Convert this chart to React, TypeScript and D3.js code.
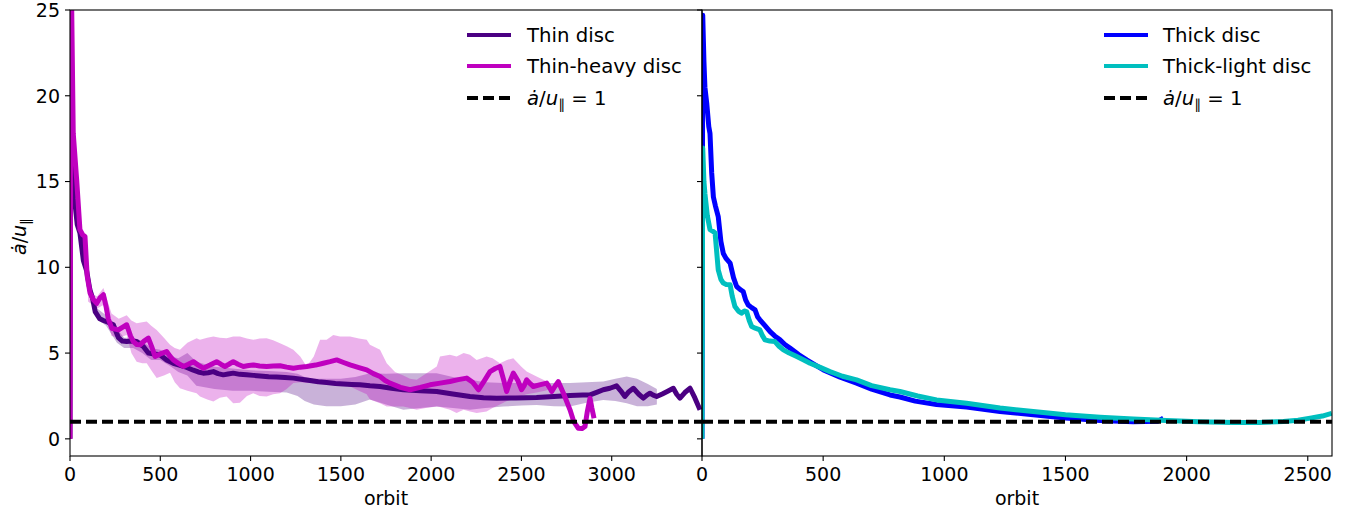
import React from 'react';
import * as d3 from 'd3';

const W = 1357, H = 516;
const TOP = 10, BOTTOM = 456;
const L_LEFT = 70, MID = 702, R_RIGHT = 1332;
const FONT = 'DejaVu Sans';
const FS = 19;
const LFS = 19.7;

const yTicks = [0, 5, 10, 15, 20, 25];
const leftXTicks = [0, 500, 1000, 1500, 2000, 2500, 3000];
const rightXTicks = [0, 500, 1000, 1500, 2000, 2500];

const leftLegend = ['Thin disc', 'Thin-heavy disc'];
const rightLegend = ['Thick disc', 'Thick-light disc'];

// [orbit, value]
const thinDisc: [number, number][] = [
  [0, 0], [4, 20.7], [12, 17], [25, 14], [40, 12.5], [55, 12], [74, 10.4], [92, 9.8], [110, 8.7], [125, 8.2],
  [140, 7.4], [165, 7.0], [185, 6.9], [210, 6.8], [240, 6.65], [268, 5.9], [290, 5.7], [314, 5.67], [340, 5.7],
  [369, 5.67], [390, 5.5], [406, 5.38], [434, 5.0], [465, 4.95], [498, 4.9], [535, 4.6], [572, 4.4], [605, 4.3],
  [637, 4.2], [660, 4.1], [683, 4.0], [710, 3.9], [738, 3.83], [765, 3.85], [794, 3.92], [820, 3.8], [849, 3.73],
  [875, 3.78], [904, 3.83], [940, 3.76], [978, 3.73], [1015, 3.7], [1052, 3.67], [1100, 3.62], [1144, 3.6],
  [1190, 3.57], [1237, 3.54], [1280, 3.48], [1329, 3.4], [1375, 3.33], [1421, 3.28], [1470, 3.23], [1514, 3.2],
  [1560, 3.17], [1606, 3.15], [1661, 3.09], [1717, 3.05], [1780, 2.95], [1846, 2.86], [1940, 2.8], [2031, 2.76],
  [2120, 2.62], [2215, 2.47], [2290, 2.4], [2363, 2.37], [2470, 2.38], [2584, 2.41], [2680, 2.47], [2769, 2.53],
  [2840, 2.55], [2880, 2.56], [2920, 2.72], [2953, 2.86], [2990, 2.95], [3027, 3.09], [3050, 2.8], [3073, 2.47],
  [3095, 2.75], [3120, 2.95], [3150, 2.6], [3175, 2.37], [3195, 2.55], [3212, 2.66], [3230, 2.55], [3249, 2.47],
  [3280, 2.62], [3310, 2.78], [3341, 2.95], [3360, 2.6], [3378, 2.37], [3405, 2.7], [3434, 2.95], [3460, 2.4],
  [3489, 1.69],
];

const thinHeavy: [number, number][] = [
  [0, 0], [6, 28], [18, 17.8], [37, 15.1], [55, 12.2], [70, 11.9], [83, 11.8], [95, 9.5], [111, 8.5], [130, 8.1],
  [148, 7.9], [165, 8.2], [185, 8.4], [200, 7.7], [212, 7.0], [231, 6.45], [250, 6.4], [268, 6.35], [290, 6.5],
  [314, 6.65], [335, 6.0], [351, 5.67], [370, 5.5], [388, 5.48], [410, 5.7], [434, 5.87], [455, 5.3], [471, 4.8],
  [500, 4.95], [535, 5.09], [555, 4.8], [572, 4.6], [600, 4.4], [628, 4.22], [655, 4.35], [683, 4.5], [710, 4.3],
  [738, 4.12], [775, 4.3], [812, 4.5], [835, 4.35], [858, 4.22], [880, 4.35], [904, 4.5], [930, 4.35], [960, 4.22],
  [990, 4.28], [1015, 4.31], [1050, 4.25], [1089, 4.22], [1125, 4.25], [1163, 4.26], [1200, 4.18], [1237, 4.12],
  [1275, 4.18], [1311, 4.22], [1360, 4.3], [1403, 4.41], [1440, 4.5], [1477, 4.6], [1515, 4.45], [1551, 4.31],
  [1600, 4.15], [1643, 4.02], [1680, 3.8], [1717, 3.63], [1745, 3.4], [1772, 3.25], [1830, 3.0], [1883, 2.86],
  [1940, 3.0], [1994, 3.15], [2050, 3.25], [2104, 3.34], [2150, 3.45], [2197, 3.54], [2230, 3.3], [2262, 2.86],
  [2295, 3.4], [2326, 3.92], [2355, 4.1], [2381, 4.22], [2400, 3.5], [2418, 2.76], [2435, 3.3], [2455, 3.83],
  [2480, 3.4], [2501, 2.86], [2515, 3.1], [2529, 3.44], [2550, 3.2], [2566, 3.05], [2600, 3.15], [2640, 3.25],
  [2655, 3.0], [2668, 2.76], [2685, 3.05], [2704, 3.34], [2735, 2.6], [2769, 1.69], [2790, 1.0], [2815, 0.62],
  [2835, 0.6], [2852, 0.72], [2865, 1.6], [2880, 2.37], [2890, 1.8], [2902, 1.2],
];

// [orbit, lower, upper]
const thinHeavyBand: [number, number, number][] = [
  [100, 8.0, 8.6], [150, 7.6, 8.3], [185, 7.8, 8.8], [230, 6.0, 7.3], [270, 5.9, 7.0], [314, 6.06, 7.2],
  [340, 5.0, 6.9], [369, 4.5, 6.74], [400, 4.4, 6.8], [425, 4.41, 6.84], [450, 4.0, 6.6], [480, 3.54, 6.35],
  [520, 3.7, 5.9], [554, 3.85, 5.48], [580, 3.3, 5.3], [609, 2.95, 5.19], [650, 2.8, 5.6], [701, 2.66, 5.87],
  [720, 2.47, 5.77], [760, 2.3, 5.9], [794, 2.18, 5.96], [830, 2.4, 5.9], [867, 2.47, 5.87], [904, 2.08, 5.96],
  [941, 2.1, 5.96], [980, 2.5, 5.85], [1015, 2.66, 5.77], [1050, 2.5, 5.85], [1089, 2.47, 5.87], [1125, 2.6, 5.75],
  [1163, 2.66, 5.58], [1200, 2.9, 5.4], [1237, 3.25, 5.19], [1275, 3.3, 4.8], [1311, 3.25, 4.22], [1350, 3.3, 4.8],
  [1385, 3.3, 5.77], [1421, 3.3, 5.77], [1458, 3.34, 6.06], [1495, 3.2, 5.96], [1551, 3.05, 5.96], [1600, 2.8, 5.85],
  [1643, 2.6, 5.77], [1661, 2.3, 5.48], [1717, 2.08, 5.19], [1754, 1.88, 4.41], [1800, 1.88, 3.9], [1846, 1.88, 3.7],
  [1883, 1.8, 3.5], [1920, 1.69, 3.44], [1970, 1.8, 3.8], [2031, 1.88, 4.22], [2049, 1.85, 4.8], [2104, 1.7, 4.9],
  [2141, 1.5, 4.8], [2180, 1.7, 5.0], [2215, 1.6, 4.9], [2252, 1.5, 4.6], [2307, 1.6, 4.8], [2340, 1.8, 4.7],
  [2381, 2.0, 4.41], [2420, 2.2, 4.6], [2455, 2.3, 4.7], [2500, 2.5, 4.2], [2529, 2.6, 3.92], [2584, 2.7, 3.63],
  [2630, 2.8, 3.4], [2660, 2.9, 3.2],
];

const thinBand: [number, number, number][] = [
  [150, 7.0, 7.6], [200, 6.6, 7.2], [260, 5.6, 6.4], [300, 5.3, 5.9], [350, 5.3, 5.9], [400, 5.0, 5.7],
  [450, 4.6, 5.3], [500, 4.6, 5.2], [560, 4.2, 4.8], [600, 3.9, 4.7], [650, 3.7, 5.0], [700, 3.1, 4.5],
  [800, 2.9, 4.2], [900, 2.8, 4.1], [1000, 2.8, 4.0], [1100, 2.75, 3.95], [1200, 2.7, 3.9], [1260, 2.5, 3.8],
  [1300, 2.2, 3.6], [1350, 2.0, 3.5], [1420, 1.9, 3.5], [1500, 1.9, 3.5], [1580, 2.0, 3.6], [1661, 2.3, 3.83],
  [1750, 2.0, 3.8], [1846, 1.69, 3.83], [1940, 1.8, 3.83], [2031, 1.88, 3.83], [2120, 1.8, 3.6], [2215, 1.69, 3.44],
  [2300, 1.8, 3.3], [2400, 1.88, 3.25], [2500, 1.95, 3.25], [2584, 1.98, 3.25], [2680, 1.9, 3.25],
  [2769, 1.88, 3.25], [2860, 2.1, 3.3], [2953, 2.27, 3.34], [3020, 2.2, 3.5], [3083, 2.08, 3.63], [3140, 1.9, 3.5],
  [3200, 1.9, 3.2], [3250, 2.0, 2.9],
];

const thickDisc: [number, number][] = [
  [0, 0], [3, 24.7], [8, 22], [12, 20.5], [20, 19.5], [28, 18.2], [33, 17.8], [40, 15.5], [47, 14.1], [55, 13.6],
  [67, 12.96], [78, 11.5], [88, 10.8], [100, 10.5], [116, 10.24], [130, 9.4], [143, 8.88], [158, 8.7], [170, 8.59],
  [180, 8.1], [191, 7.8], [205, 7.65], [219, 7.52], [230, 7.1], [239, 6.94], [260, 6.6], [281, 6.25], [300, 6.0],
  [322, 5.77], [342, 5.5], [363, 5.29], [400, 4.9], [432, 4.6], [470, 4.28], [501, 4.02], [570, 3.6], [638, 3.25],
  [700, 2.9], [776, 2.56], [817, 2.44], [880, 2.2], [968, 2.0], [1092, 1.85], [1230, 1.6], [1367, 1.4],
  [1500, 1.22], [1643, 1.07], [1780, 1.0], [1880, 1.02], [1904, 1.2],
];

const thickLight: [number, number][] = [
  [0, 0], [3, 16.95], [8, 15], [12, 14.3], [22, 13], [33, 12.2], [45, 12.1], [54, 12.0], [60, 11], [67, 9.85],
  [78, 9.3], [88, 9.08], [100, 9.0], [116, 8.98], [125, 8.3], [136, 7.71], [150, 7.45], [163, 7.33], [175, 7.45],
  [184, 7.42], [195, 6.9], [205, 6.55], [220, 6.45], [239, 6.35], [250, 6.0], [260, 5.77], [280, 5.7], [301, 5.67],
  [318, 5.4], [336, 5.19], [360, 5.0], [391, 4.8], [420, 4.6], [446, 4.41], [490, 4.15], [528, 3.92], [580, 3.65],
  [638, 3.44], [700, 3.1], [776, 2.86], [817, 2.76], [890, 2.5], [968, 2.27], [1092, 2.08], [1230, 1.8],
  [1367, 1.59], [1500, 1.4], [1643, 1.26], [1780, 1.15], [1918, 1.07], [2050, 1.0], [2193, 0.95], [2300, 0.96],
  [2399, 1.01], [2460, 1.08], [2510, 1.21], [2560, 1.33], [2599, 1.49],
];

const refLevel = 1;

const C_THIN = '#4B0082';
const C_HEAVY = '#BF00BF';
const C_THICK = '#0000FF';
const C_LIGHT = '#00BFBF';

function MathLabel({ x, y, size, suffix }: { x: number; y: number; size: number; suffix?: string }) {
  return (
    <text x={x} y={y} fontFamily={FONT} fontSize={size} fill="#000">
      <tspan fontStyle="italic">ȧ</tspan>
      <tspan>/</tspan>
      <tspan fontStyle="italic">u</tspan>
      <tspan fontSize={size * 0.7} dy={size * 0.22}>∥</tspan>
      {suffix ? <tspan dy={-size * 0.22}>{suffix}</tspan> : null}
    </text>
  );
}

export default function App() {
  const y = d3.scaleLinear().domain([-1, 25]).range([BOTTOM, TOP]);
  const xL = d3.scaleLinear().domain([0, 3500]).range([L_LEFT, MID]);
  const xR = d3.scaleLinear().domain([0, 2600]).range([MID, R_RIGHT]);

  const lineL = d3.line<[number, number]>().x(d => xL(d[0])).y(d => y(d[1]));
  const lineR = d3.line<[number, number]>().x(d => xR(d[0])).y(d => y(d[1]));
  const areaL = d3.area<[number, number, number]>().x(d => xL(d[0])).y0(d => y(d[1])).y1(d => y(d[2]));

  const legendRows = [35, 66, 98];
  const LW = 5;

  return (
    <svg width={W} height={H} style={{ position: 'absolute', left: 0, top: 0, background: '#fff' }}>
      <defs>
        <clipPath id="clipL"><rect x={L_LEFT} y={TOP} width={MID - L_LEFT} height={BOTTOM - TOP} /></clipPath>
        <clipPath id="clipR"><rect x={MID} y={TOP} width={R_RIGHT - MID} height={BOTTOM - TOP} /></clipPath>
      </defs>
      <rect x={0} y={0} width={W} height={H} fill="#fff" />

      {/* Left panel */}
      <g clipPath="url(#clipL)">
        <path d={areaL(thinBand) || ''} fill={C_THIN} fillOpacity={0.3} />
        <path d={areaL(thinHeavyBand) || ''} fill={C_HEAVY} fillOpacity={0.3} />
        <path d={lineL(thinDisc) || ''} fill="none" stroke={C_THIN} strokeWidth={LW} strokeLinejoin="round" />
        <path d={lineL(thinHeavy) || ''} fill="none" stroke={C_HEAVY} strokeWidth={LW} strokeLinejoin="round" />
        <line x1={L_LEFT} x2={MID} y1={y(refLevel)} y2={y(refLevel)} stroke="#000" strokeWidth={4} strokeDasharray="11,5" />
      </g>

      {/* Right panel */}
      <g clipPath="url(#clipR)">
        <path d={lineR(thickDisc) || ''} fill="none" stroke={C_THICK} strokeWidth={LW} strokeLinejoin="round" />
        <path d={lineR(thickLight) || ''} fill="none" stroke={C_LIGHT} strokeWidth={LW} strokeLinejoin="round" />
        <line x1={MID} x2={R_RIGHT} y1={y(refLevel)} y2={y(refLevel)} stroke="#000" strokeWidth={4} strokeDasharray="11,5" />
      </g>

      {/* Frames */}
      <rect x={L_LEFT} y={TOP} width={MID - L_LEFT} height={BOTTOM - TOP} fill="none" stroke="#000" strokeWidth={1.1} />
      <rect x={MID} y={TOP} width={R_RIGHT - MID} height={BOTTOM - TOP} fill="none" stroke="#000" strokeWidth={1.1} />

      {/* Y ticks */}
      {yTicks.map(t => (
        <g key={'y' + t}>
          <line x1={L_LEFT - 5} x2={L_LEFT} y1={y(t)} y2={y(t)} stroke="#000" strokeWidth={1.1} />
          <line x1={MID - 5} x2={MID} y1={y(t)} y2={y(t)} stroke="#000" strokeWidth={1.1} />
          <text x={L_LEFT - 10} y={y(t)} dy="0.36em" textAnchor="end" fontFamily={FONT} fontSize={FS}>{t}</text>
        </g>
      ))}

      {/* X ticks */}
      {leftXTicks.map(t => (
        <g key={'xl' + t}>
          <line x1={xL(t)} x2={xL(t)} y1={BOTTOM} y2={BOTTOM + 5} stroke="#000" strokeWidth={1.1} />
          <text x={xL(t)} y={481} textAnchor="middle" fontFamily={FONT} fontSize={FS}>{t}</text>
        </g>
      ))}
      {rightXTicks.map(t => (
        <g key={'xr' + t}>
          <line x1={xR(t)} x2={xR(t)} y1={BOTTOM} y2={BOTTOM + 5} stroke="#000" strokeWidth={1.1} />
          <text x={xR(t)} y={481} textAnchor="middle" fontFamily={FONT} fontSize={FS}>{t}</text>
        </g>
      ))}

      <text x={(L_LEFT + MID) / 2} y={505} textAnchor="middle" fontFamily={FONT} fontSize={FS}>orbit</text>
      <text x={(MID + R_RIGHT) / 2} y={505} textAnchor="middle" fontFamily={FONT} fontSize={FS}>orbit</text>

      {/* Y label */}
      <g transform={`translate(26, ${(TOP + BOTTOM) / 2}) rotate(-90)`}>
        <g transform="translate(-22, 0)">
          <MathLabel x={0} y={0} size={FS} />
        </g>
      </g>

      {/* Left legend */}
      {[C_THIN, C_HEAVY].map((c, i) => (
        <g key={'ll' + i}>
          <line x1={467} x2={511} y1={legendRows[i]} y2={legendRows[i]} stroke={c} strokeWidth={4} />
          <text x={527} y={legendRows[i]} dy="0.35em" fontFamily={FONT} fontSize={LFS}>{leftLegend[i]}</text>
        </g>
      ))}
      <line x1={467} x2={511} y1={legendRows[2]} y2={legendRows[2]} stroke="#000" strokeWidth={4} strokeDasharray="11,5" />
      <MathLabel x={527} y={legendRows[2] + 7} size={LFS} suffix={' = 1'} />

      {/* Right legend */}
      {[C_THICK, C_LIGHT].map((c, i) => (
        <g key={'rl' + i}>
          <line x1={1104} x2={1148} y1={legendRows[i]} y2={legendRows[i]} stroke={c} strokeWidth={4} />
          <text x={1163} y={legendRows[i]} dy="0.35em" fontFamily={FONT} fontSize={LFS}>{rightLegend[i]}</text>
        </g>
      ))}
      <line x1={1104} x2={1148} y1={legendRows[2]} y2={legendRows[2]} stroke="#000" strokeWidth={4} strokeDasharray="11,5" />
      <MathLabel x={1163} y={legendRows[2] + 7} size={LFS} suffix={' = 1'} />
    </svg>
  );
}
